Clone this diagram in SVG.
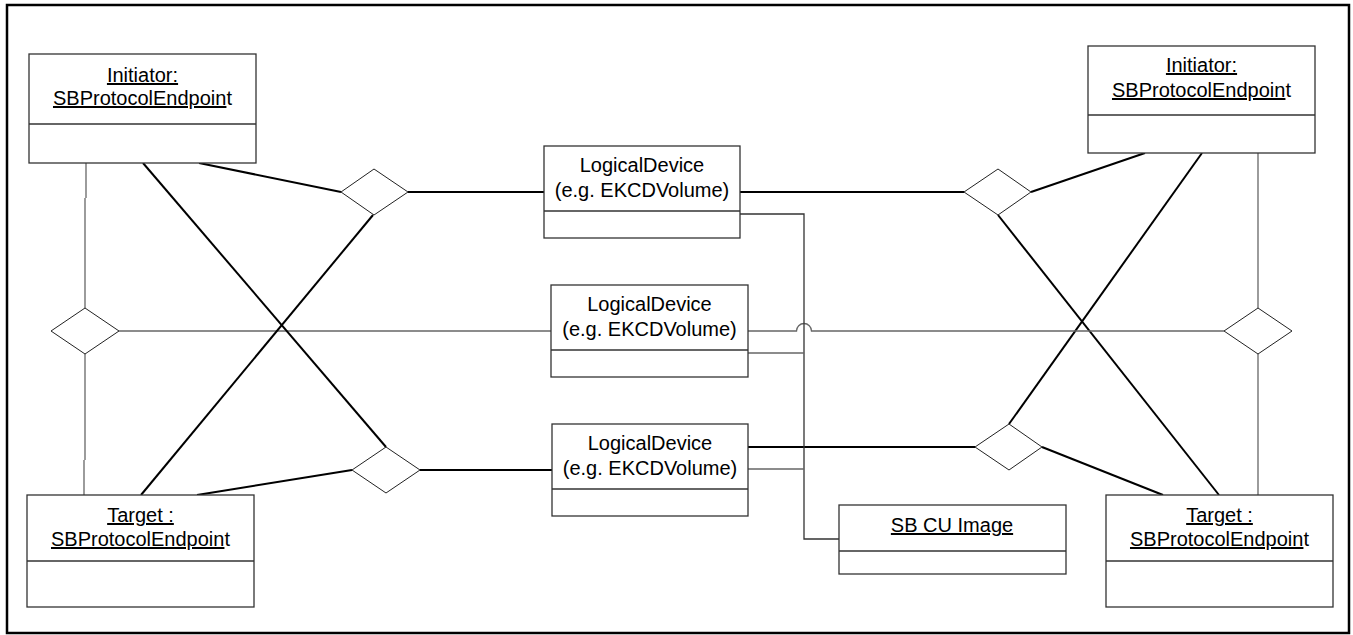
<svg xmlns="http://www.w3.org/2000/svg" width="1353" height="635" viewBox="0 0 1353 635">
<style>
.box{fill:#fff;stroke:#333;stroke-width:1.3}
.div{stroke:#333;stroke-width:1.3}
.t{font-family:"Liberation Sans",Arial,sans-serif;font-size:20px;fill:#000;text-anchor:middle}
.u{text-decoration:underline}
.thick{stroke:#000;stroke-width:2;fill:none}
.thin{stroke:#666;stroke-width:1.3;fill:none}
.dia{fill:#fff;stroke:#222;stroke-width:1}
</style>
<rect x="0" y="0" width="1353" height="635" fill="#fff"/>
<rect x="7" y="5" width="1342" height="628" fill="none" stroke="#000" stroke-width="2.5"/>

<g id="connectors">
  <!-- left side -->
  <line class="thin" x1="86" y1="163" x2="86" y2="198"/>
  <line class="thin" x1="85" y1="198" x2="85" y2="308"/>
  <line class="thin" x1="85" y1="354" x2="85" y2="460"/>
  <line class="thin" x1="84" y1="460" x2="84" y2="495"/>
  <line class="thin" x1="119" y1="331" x2="551" y2="331"/>
  <line class="thick" x1="199" y1="163" x2="341" y2="192"/>
  <line class="thick" x1="143" y1="163" x2="386" y2="447"/>
  <line class="thick" x1="373" y1="215" x2="141" y2="495"/>
  <line class="thick" x1="408" y1="192" x2="544" y2="192"/>
  <line class="thick" x1="197" y1="495" x2="352" y2="470"/>
  <line class="thick" x1="420" y1="470" x2="552" y2="470"/>
  <!-- right side -->
  <line class="thick" x1="740" y1="192" x2="964" y2="192"/>
  <line class="thick" x1="1031" y1="192" x2="1145" y2="153"/>
  <line class="thick" x1="1202" y1="153" x2="1009" y2="424"/>
  <line class="thick" x1="998" y1="215" x2="1219" y2="495"/>
  <line class="thick" x1="748" y1="447" x2="975" y2="447"/>
  <line class="thick" x1="1042" y1="447" x2="1163" y2="495"/>
  <path class="thin" d="M748 331 H796.5 A7.5 7.5 0 0 1 811.5 331 H1224"/>
  <line class="thin" x1="1258" y1="153" x2="1258" y2="308"/>
  <line class="thin" x1="1258" y1="354" x2="1258" y2="495"/>
  <!-- SB CU Image links -->
  <path class="thin" d="M740 214 H804 V539 H839" style="stroke:#333"/>
  <line class="thin" x1="748" y1="353" x2="804" y2="353"/>
  <line class="thin" x1="748" y1="469" x2="804" y2="469"/>
</g>

<g id="diamonds">
  <polygon id="d-tl" class="dia" points="341,192 374,169 408,192 374,215"/>
  <polygon id="d-l" class="dia" points="51,331 85,308 119,331 85,354"/>
  <polygon id="d-bl" class="dia" points="352,470 386,447 420,470 386,493"/>
  <polygon id="d-tr" class="dia" points="964,192 998,169 1031,192 998,215"/>
  <polygon id="d-r" class="dia" points="1224,331 1258,308 1292,331 1258,354"/>
  <polygon id="d-br" class="dia" points="975,447 1009,424 1042,447 1009,470"/>
</g>

<g id="initiator-left">
  <rect class="box" x="29" y="54" width="227" height="109"/>
  <line class="div" x1="29" y1="124" x2="256" y2="124"/>
  <text class="t" x="142.5" y="82"><tspan class="u">Initiator:</tspan></text>
  <text class="t" x="142.5" y="105"><tspan class="u">SBProtocolEndpoin</tspan>t</text>
</g>

<g id="target-left">
  <rect class="box" x="27" y="495" width="227" height="112"/>
  <line class="div" x1="27" y1="561" x2="254" y2="561"/>
  <text class="t" x="140.5" y="522"><tspan class="u">Target :</tspan></text>
  <text class="t" x="140.5" y="546"><tspan class="u">SBProtocolEndpoin</tspan>t</text>
</g>

<g id="initiator-right">
  <rect class="box" x="1088" y="46" width="227" height="107"/>
  <line class="div" x1="1088" y1="115" x2="1315" y2="115"/>
  <text class="t" x="1201.5" y="72"><tspan class="u">Initiator:</tspan></text>
  <text class="t" x="1201.5" y="97"><tspan class="u">SBProtocolEndpoin</tspan>t</text>
</g>

<g id="target-right">
  <rect class="box" x="1106" y="495" width="227" height="112"/>
  <line class="div" x1="1106" y1="561" x2="1333" y2="561"/>
  <text class="t" x="1219.5" y="522"><tspan class="u">Target :</tspan></text>
  <text class="t" x="1219.5" y="546"><tspan class="u">SBProtocolEndpoin</tspan>t</text>
</g>

<g id="logical-device-1">
  <rect class="box" x="544" y="146" width="196" height="92"/>
  <line class="div" x1="544" y1="211" x2="740" y2="211"/>
  <text class="t" x="642" y="172">LogicalDevice</text>
  <text class="t" x="642" y="197">(e.g. EKCDVolume)</text>
</g>

<g id="logical-device-2">
  <rect class="box" x="551" y="285" width="197" height="92"/>
  <line class="div" x1="551" y1="350" x2="748" y2="350"/>
  <text class="t" x="649.5" y="311">LogicalDevice</text>
  <text class="t" x="649.5" y="336">(e.g. EKCDVolume)</text>
</g>

<g id="logical-device-3">
  <rect class="box" x="552" y="424" width="196" height="92"/>
  <line class="div" x1="552" y1="489" x2="748" y2="489"/>
  <text class="t" x="650" y="450">LogicalDevice</text>
  <text class="t" x="650" y="475">(e.g. EKCDVolume)</text>
</g>

<g id="sb-cu-image">
  <rect class="box" x="839" y="505" width="227" height="69"/>
  <line class="div" x1="839" y1="551" x2="1066" y2="551"/>
  <text class="t" x="952" y="532"><tspan class="u">SB CU Image</tspan></text>
</g>
</svg>
